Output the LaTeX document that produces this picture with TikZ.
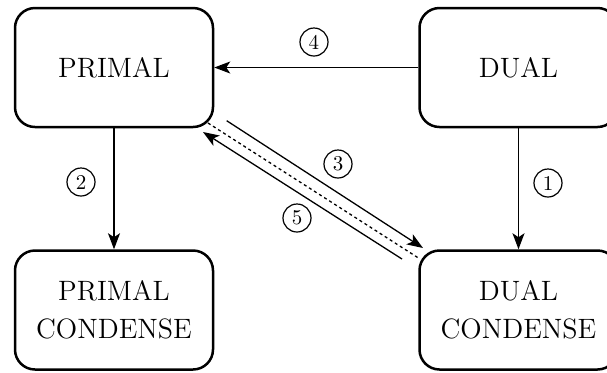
\documentclass[tikz,border=0pt]{standalone}
\usetikzlibrary{arrows.meta,calc}
\begin{document}
\begin{tikzpicture}[x=0.5pt,y=-0.5pt,
  box/.style={draw, line width=1.25pt, rounded corners=10pt, minimum width=99pt,
    minimum height=59.5pt, align=center, inner sep=0pt,
    font=\fontsize{14}{19}\selectfont},
  conn/.style={line width=0.65pt, -{Stealth[length=8pt,width=6pt,inset=2pt]}},
  dotline/.style={line width=0.65pt, dash pattern=on 1.5pt off 1.5pt},
  num/.style={circle, draw, line width=0.6pt, minimum size=14pt, inner sep=0pt,
    font=\fontsize{10.5}{12}\selectfont}]
\useasboundingbox (0,0) rectangle (607,372);
\clip (0,0) rectangle (607,372);
\node[box] (P) at (114,67.5) {PRIMAL};
\node[box] (D) at (518.5,67.5) {DUAL};
\node[box] (PC) at (114,310) {PRIMAL\\CONDENSE};
\node[box] (DC) at (518.5,310) {DUAL\\CONDENSE};
\draw[conn] (D.west) -- (P.east);
\draw[conn] (P.south) -- (PC.north);
\draw[conn] (D.south) -- (DC.north);
\coordinate (d0) at ($(P.south east)+(-6.25,-5.25)$);
\coordinate (d1) at ($(DC.north west)+(1.75,9.75)$);
\coordinate (t0) at ($(P.south east)+(12.45,-7.55)$);
\coordinate (t1) at ($(DC.north west)+(4.75,-1.25)$);
\coordinate (f0) at ($(DC.north west)+(-16.25,9.75)$);
\coordinate (f1) at ($(P.south east)+(-11.25,3.75)$);
\draw[dotline] (d0) -- (d1);
\draw[conn] (t0) -- (t1);
\draw[conn] (f0) -- (f1);
\node[num] (n1) at (548,183) {1};
\node[num] (n2) at (81,182) {2};
\node[num] (n3) at (338,164) {3};
\node[num] (n4) at (314,42) {4};
\node[num] (n5) at (297,218) {5};
\end{tikzpicture}
\end{document}
